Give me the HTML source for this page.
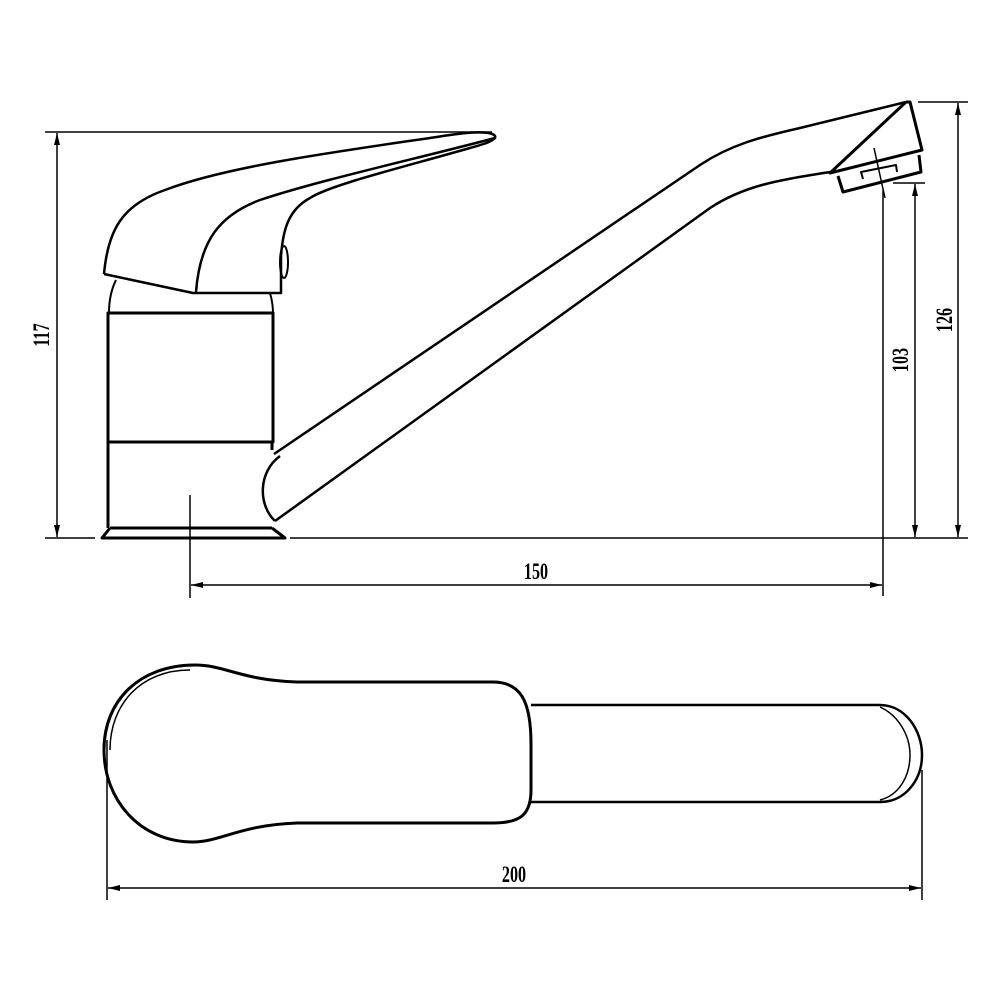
<!DOCTYPE html>
<html><head><meta charset="utf-8"><style>
html,body{margin:0;padding:0;background:#fff;}
svg{display:block}
text{font-family:"Liberation Serif",serif;font-weight:bold;font-size:23px;fill:#000}
</style></head><body>
<svg width="1000" height="1000" viewBox="0 0 1000 1000" xmlns="http://www.w3.org/2000/svg">
<defs>
<marker id="a" viewBox="0 0 12 6" refX="12" refY="3" markerWidth="12" markerHeight="6" orient="auto-start-reverse" markerUnits="userSpaceOnUse">
<path d="M0,0 L12,3 L0,6 Z" fill="#000"/></marker>
</defs>
<g fill="none" stroke="#000" stroke-width="1.5">
<line x1="45" y1="132" x2="492" y2="132"/>
<line x1="45" y1="538" x2="95" y2="538"/>
<line x1="290" y1="538" x2="968" y2="538"/>
<line x1="57" y1="133" x2="57" y2="537" marker-start="url(#a)" marker-end="url(#a)"/>
<line x1="918" y1="102" x2="968" y2="102"/>
<line x1="958" y1="103" x2="958" y2="537" marker-start="url(#a)" marker-end="url(#a)"/>
<line x1="893" y1="183" x2="925" y2="183"/>
<line x1="915" y1="184" x2="915" y2="537" marker-start="url(#a)" marker-end="url(#a)"/>
<line x1="883" y1="190" x2="883" y2="596"/>
<line x1="190" y1="495" x2="190" y2="598"/>
<line x1="191" y1="585" x2="882" y2="585" marker-start="url(#a)" marker-end="url(#a)"/>
<line x1="874" y1="148" x2="885" y2="198"/>
<line x1="107" y1="740" x2="107" y2="900"/>
<line x1="922" y1="770" x2="922" y2="900"/>
<line x1="108" y1="888" x2="921" y2="888" marker-start="url(#a)" marker-end="url(#a)"/>
</g>
<g fill="none" stroke="#000" stroke-width="2.5" stroke-linejoin="round">
<path d="M104,274 C108,230 122,205 165,190 C230,165 350,150 450,135 C485,130 497,133 495,138 C490,143 480,145 470,148 C400,168 330,185 310,198 C288,210 283,230 281,256"/>
<path d="M495,138 C420,158 320,180 260,200 C220,215 200,240 196,292"/>
<path d="M104,274 L193,293 L281,293 L281,256"/>
<ellipse cx="284" cy="262" rx="4" ry="16" stroke-width="2"/>
<path d="M116,280 C110,292 109,303 109,313" stroke-width="2"/>
<path d="M270,293 C272,300 273,306 273,313" stroke-width="2"/>
<rect x="108" y="313" width="165" height="129" stroke-width="3"/>
<path d="M108,442 L108,528 M272,442 L272,450" stroke-width="3"/>
<path d="M110,528 L272,528" stroke-width="3"/>
<path d="M110,528 L102,538 L285,538 L272,528" stroke-width="3"/>
<path d="M274,454 L700,165 C730,145 760,137 800,128 L906,102"/>
<path d="M275,521 L710,208 C745,185 780,180 830,172"/>
<path d="M280,456 C258,472 258,505 275,521" />
<path d="M906,102 L910,102 L922,150 L830,173 L906,102" stroke-width="3"/>
<path d="M838,176 L843,192 L921,172 L919,155" stroke-width="3"/>
<path d="M863,179 L861,172 L896,165 L897,172" stroke-width="2"/>
<path d="M104,750 C104,700 140,665 195,665 C225,665 240,680 297,682 L493,682 C520,682 531,700 531,744 L531,790 C531,815 520,823 493,823 L297,823 C240,825 220,842 193,842 C140,842 104,800 104,750 Z" stroke-width="3"/>
<path d="M110,750 C110,705 140,670 190,670" stroke-width="1.5"/>
<path d="M531,705 L880,705 C905,705 922,730 922,755 C922,780 905,802 880,802 L531,802" stroke-width="2.5"/>
<path d="M880,707 C898,715 910,735 910,755 C910,775 900,795 880,800" stroke-width="1.5"/>
</g>
<text x="536" y="579" text-anchor="middle" transform="translate(536,0) scale(0.7,1) translate(-536,0)">150</text>
<text x="514" y="882" text-anchor="middle" transform="translate(514,0) scale(0.7,1) translate(-514,0)">200</text>
<text transform="translate(49,335) rotate(-90) scale(0.7,1)" text-anchor="middle">117</text>
<text transform="translate(908,360) rotate(-90) scale(0.7,1)" text-anchor="middle">103</text>
<text transform="translate(952,320) rotate(-90) scale(0.7,1)" text-anchor="middle">126</text>
</svg>
</body></html>
